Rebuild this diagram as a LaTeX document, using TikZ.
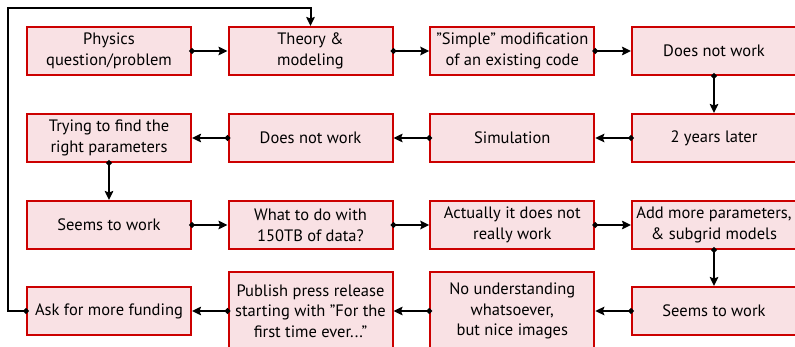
\documentclass[tikz,border=0pt]{standalone}
\usepackage{fontspec}
\setmainfont{PT Sans}
\usetikzlibrary{arrows.meta,positioning}
\definecolor{boxfill}{RGB}{249,225,228}
\definecolor{boxline}{RGB}{204,0,0}
\newcommand{\dq}{{\char34}}
\tikzset{
  stage/.style={draw=boxline, fill=boxfill, line width=2pt,
    minimum width=164pt, minimum height=48pt, align=center,
    inner sep=2pt, font=\fontsize{16.5}{20.7}\selectfont},
  tallstage/.style={stage, minimum height=78pt},
  flow/.style={line width=2pt, {Circle[length=5.5pt]}-{Stealth[length=9pt,width=8.5pt,inset=1.5pt]},
    shorten <=-2.75pt}
}
\begin{document}
\begin{tikzpicture}[x=1pt,y=-1pt]
\useasboundingbox (0,0) rectangle (795,347);
% row 1
\node[stage] (a1) at (109,51) {Physics\\question/problem};
\node[stage] (a2) at (310.5,51) {Theory \&\\modeling};
\node[stage] (a3) at (512.3,51) {\dq Simple\dq{} modification\\of an existing code};
\node[stage] (a4) at (714,51) {Does not work};
% row 2
\node[stage] (b1) at (109,138) {Trying to find the\\right parameters};
\node[stage] (b2) at (310.5,138) {Does not work};
\node[stage] (b3) at (512.3,138) {Simulation};
\node[stage] (b4) at (714,138) {2 years later};
% row 3
\node[stage] (c1) at (109,225) {Seems to work};
\node[stage] (c2) at (310.5,225) {What to do with\\150TB of data?};
\node[stage] (c3) at (512.3,225) {Actually it does not\\really work};
\node[stage] (c4) at (714,225) {Add more parameters,\\\& subgrid models};
% row 4
\node[stage] (d1) at (109,311) {Ask for more funding};
\node[tallstage] (d2) at (310.5,311) {Publish press release\\starting with \dq For the\\first time ever...\dq};
\node[tallstage] (d3) at (512.3,311) {No understanding\\whatsoever,\\but nice images};
\node[stage] (d4) at (714,311) {Seems to work};
% connectors
\draw[flow] (a1.east) -- (a2.west);
\draw[flow] (a2.east) -- (a3.west);
\draw[flow] (a3.east) -- (a4.west);
\draw[flow] (a4.south) -- (b4.north);
\draw[flow] (b4.west) -- (b3.east);
\draw[flow] (b3.west) -- (b2.east);
\draw[flow] (b2.west) -- (b1.east);
\draw[flow] (b1.south) -- (c1.north);
\draw[flow] (c1.east) -- (c2.west);
\draw[flow] (c2.east) -- (c3.west);
\draw[flow] (c3.east) -- (c4.west);
\draw[flow] (c4.south) -- (d4.north);
\draw[flow] (d4.west) -- (d3.east);
\draw[flow] (d3.west) -- (d2.east);
\draw[flow] (d2.west) -- (d1.east);
% loop back to theory
\coordinate (lb) at (8,8);
\draw[flow] (d1.west) -| (lb) -| (a2.north);
\end{tikzpicture}
\end{document}
